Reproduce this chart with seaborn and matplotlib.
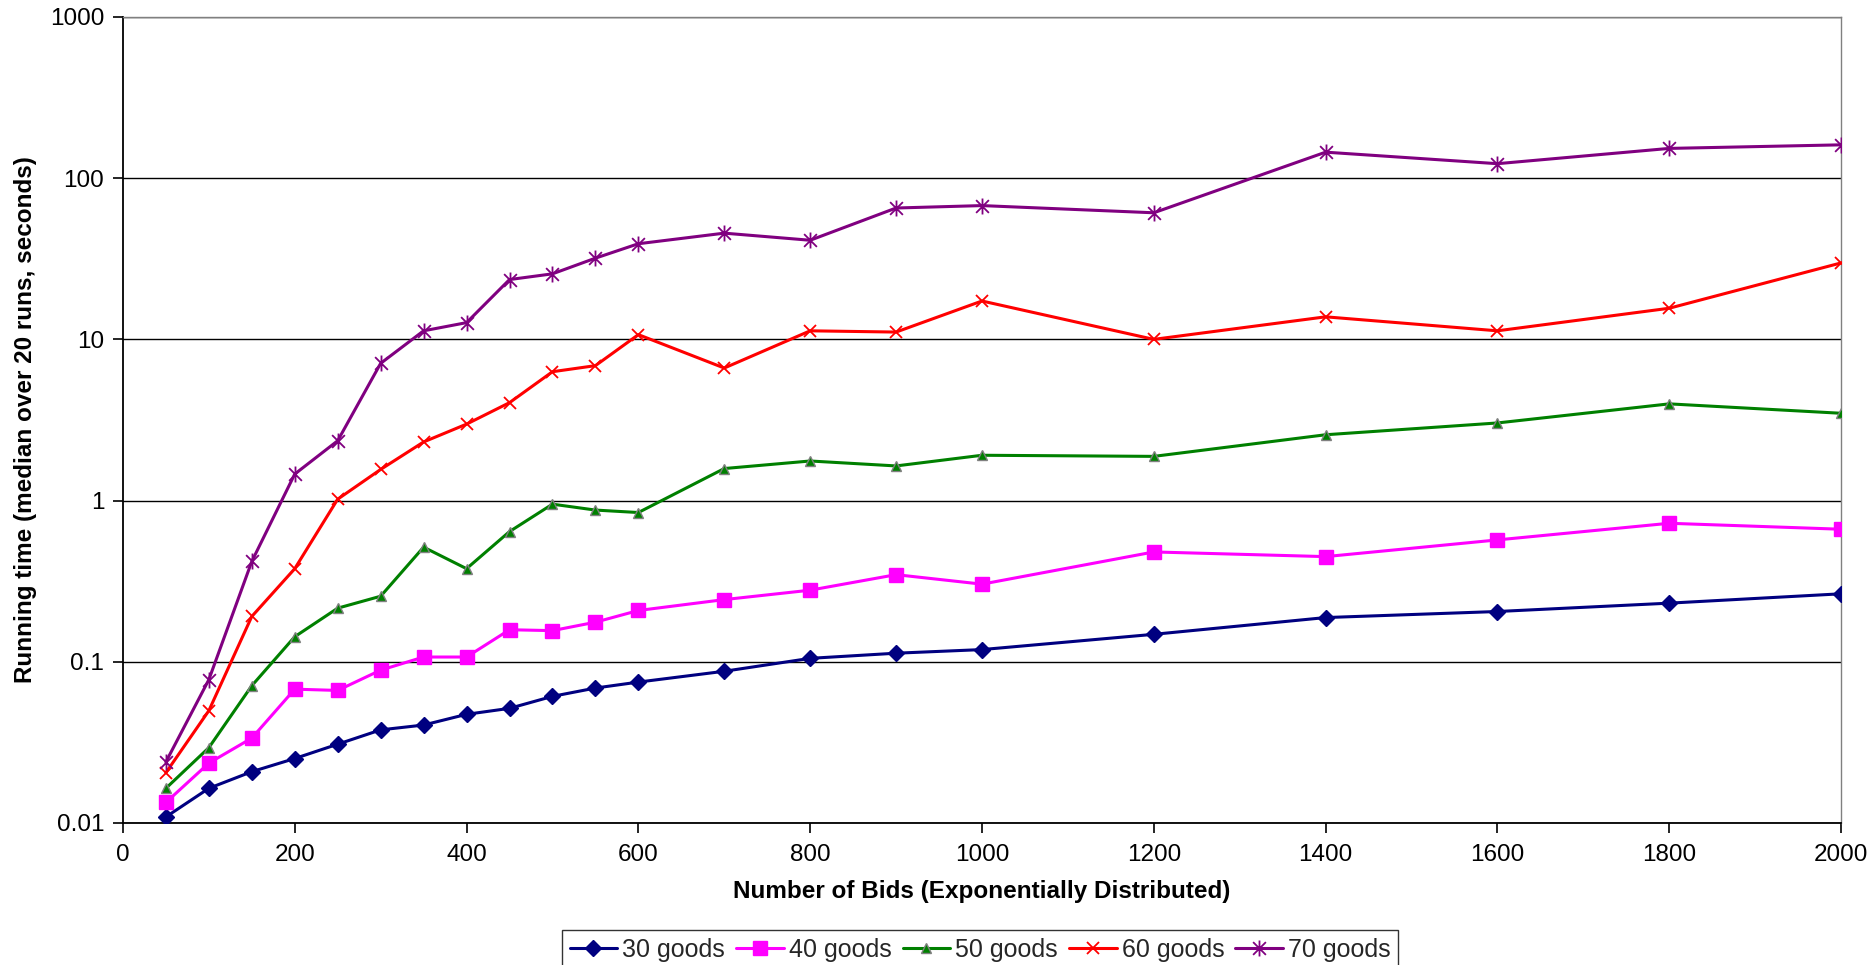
import numpy as np
import pandas as pd
import matplotlib
matplotlib.use("Agg")
import matplotlib.pyplot as plt
from matplotlib.path import Path
from matplotlib.ticker import FixedLocator, FuncFormatter, NullLocator
import seaborn as sns

# Number of bids
bids = [50, 100, 150, 200, 250, 300, 350, 400, 450, 500, 550, 600,
        700, 800, 900, 1000, 1200, 1400, 1600, 1800, 2000]

# Median running time over 20 runs (seconds)
goods_30 = [0.0109, 0.0164, 0.0208, 0.0251, 0.0308, 0.0378, 0.0405, 0.0472, 0.0514, 0.061, 0.0687,
            0.0748, 0.0873, 0.105, 0.113, 0.119, 0.148, 0.188, 0.205, 0.231, 0.264]
goods_40 = [0.0134, 0.0235, 0.0336, 0.0676, 0.0664, 0.0887, 0.107, 0.107, 0.158, 0.156, 0.176,
            0.208, 0.243, 0.278, 0.347, 0.303, 0.48, 0.449, 0.57, 0.723, 0.664]
goods_50 = [0.0164, 0.0293, 0.071, 0.143, 0.215, 0.255, 0.514, 0.378, 0.642, 0.95, 0.873,
            0.843, 1.58, 1.76, 1.64, 1.91, 1.88, 2.56, 3.03, 3.98, 3.48]
goods_60 = [0.0205, 0.0497, 0.191, 0.378, 1.02, 1.56, 2.31, 2.98, 4.05, 6.3, 6.87,
            10.7, 6.64, 11.3, 11.1, 17.3, 10.0, 13.8, 11.3, 15.6, 29.8]
goods_70 = [0.0239, 0.0774, 0.419, 1.46, 2.35, 7.1, 11.3, 12.7, 23.5, 25.5, 31.9,
            39.2, 45.6, 41.2, 65.3, 67.6, 61.0, 145.0, 123.0, 153.0, 161.0]

series_names = ["30 goods", "40 goods", "50 goods", "60 goods", "70 goods"]
series_values = [goods_30, goods_40, goods_50, goods_60, goods_70]

x_ticks = [0, 200, 400, 600, 800, 1000, 1200, 1400, 1600, 1800, 2000]
y_ticks = [0.01, 0.1, 1, 10, 100, 1000]

df = pd.DataFrame({
    "bids": np.tile(bids, len(series_names)),
    "time": np.concatenate(series_values),
    "series": np.repeat(series_names, len(bids)),
})

# asterisk marker: an X crossed by a vertical bar
star_path = Path(
    [(-1, -1), (1, 1), (-1, 1), (1, -1), (0, -1.25), (0, 1.25)],
    [Path.MOVETO, Path.LINETO, Path.MOVETO, Path.LINETO, Path.MOVETO, Path.LINETO],
)

styles = {
    "30 goods": dict(color="#000080", marker="D", markersize=8.5, mfc="#000080", mec="#000080", mew=1),
    "40 goods": dict(color="#FF00FF", marker="s", markersize=10, mfc="#FF00FF", mec="#FF00FF", mew=1),
    "50 goods": dict(color="#008000", marker="^", markersize=7.5, mfc="#008000", mec="#808080", mew=1),
    "60 goods": dict(color="#FF0000", marker="x", markersize=8, mfc="none", mec="#FF0000", mew=1.3),
    "70 goods": dict(color="#800080", marker=star_path, markersize=11.5, mfc="none", mec="#800080", mew=1.3),
}

sns.set_theme(style="white")
plt.rcParams["font.family"] = ["Liberation Sans", "DejaVu Sans"]

fig = plt.figure(figsize=(18.74, 9.65), dpi=100)
ax = fig.add_axes([0.0656, 0.1472, 0.9168, 0.8352])

for name in series_names:
    st = styles[name]
    sub = df[df["series"] == name]
    sns.lineplot(data=sub, x="bids", y="time", ax=ax, color=st["color"], linewidth=2.2,
                 marker=st["marker"], markersize=st["markersize"],
                 markerfacecolor=st["mfc"], markeredgecolor=st["mec"],
                 markeredgewidth=st["mew"], label=name, legend=False, zorder=3)

ax.set_yscale("log")
ax.set_xlim(0, 2000)
ax.set_ylim(0.01, 1000)
ax.xaxis.set_major_locator(FixedLocator(x_ticks))
ax.yaxis.set_major_locator(FixedLocator(y_ticks))
ax.yaxis.set_minor_locator(NullLocator())
ax.yaxis.set_major_formatter(FuncFormatter(lambda v, p: f"{v:g}"))

ax.grid(False)
ax.grid(True, axis="y", which="major", color="#000000", linewidth=1.0, zorder=0)

for side in ("left", "bottom"):
    ax.spines[side].set_color("#000000")
    ax.spines[side].set_linewidth(1.3)
for side in ("top", "right"):
    ax.spines[side].set_color("#808080")
    ax.spines[side].set_linewidth(1.0)

ax.tick_params(axis="both", which="major", direction="out", length=7, width=1.2,
               color="#000000", labelsize=17.5, labelcolor="#000000",
               left=True, bottom=True)
ax.tick_params(axis="x", pad=8.5)
ax.tick_params(axis="y", pad=6.5)

ax.set_xlabel("Number of Bids (Exponentially Distributed)", fontsize=17.5,
              fontweight="bold", color="#000000", labelpad=10)
ax.set_ylabel("Running time (median over 20 runs, seconds)", fontsize=17.5,
              fontweight="bold", color="#000000", labelpad=9)

handles, labels = ax.get_legend_handles_labels()
leg = fig.legend(handles, labels, loc="upper center", bbox_to_anchor=(0.523, 0.036),
                 ncol=5, fontsize=18, frameon=True, fancybox=False, edgecolor="#000000",
                 handlelength=1.9, handletextpad=0.2, columnspacing=0.45,
                 borderpad=0.3, borderaxespad=0)
leg.get_frame().set_linewidth(1.0)

fig.savefig("out.png", dpi=100, facecolor="white")
